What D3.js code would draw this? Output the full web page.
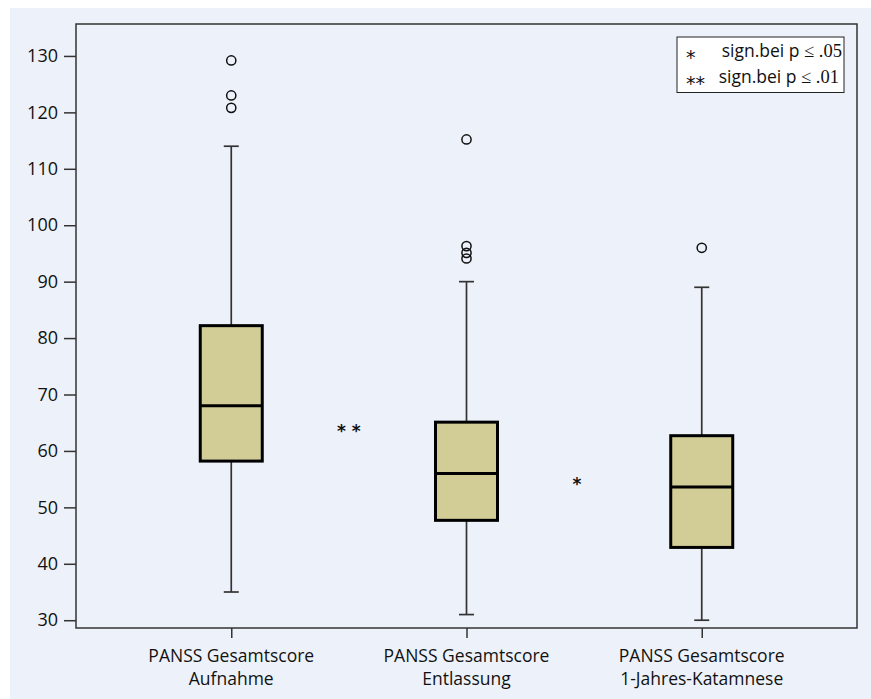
<!DOCTYPE html>
<html>
<head>
<meta charset="utf-8">
<script src="https://cdn.jsdelivr.net/npm/d3@7"></script>
<style>
  body { margin: 0; background: #fff; }
  svg text { font-family: "Open Sans", "Noto Sans", sans-serif; fill: #111; }
</style>
</head>
<body>
<div id="chart"></div>
<script>
// box plot data
let categories = ["Aufnahme", "Entlassung", "1-Jahres-Katamnese"];
let whiskerLow = [35, 31, 30];
let quartile1 = [58.2, 47.7, 42.9];
let medians = [68, 56, 53.6];
let quartile3 = [82.2, 65.1, 62.7];
let whiskerHigh = [114, 90, 89];
let outliers = [[129.2, 123, 120.8], [115.2, 96.3, 95.1, 94.1], [96]];
let yTicks = [30, 40, 50, 60, 70, 80, 90, 100, 110, 120, 130];

// significance marks between the boxes (position in category units)
let sigLabels = ["* *", "*"];
let sigPos = [0.5, 1.47];
let sigValue = [63.8, 54.5];

let legendSymbols = ["*", "**"];
let legendText = ["sign.bei p", "sign.bei p"];
let legendLevel = ["\u2264 .05", "\u2264 .01"];

let svgwidth = 871;
let svgheight = 699;

let margin = { top: 24, right: 14, bottom: 71, left: 76 };
let width = svgwidth - margin.left - margin.right;
let height = svgheight - margin.top - margin.bottom;

let svg = d3.select("#chart")
    .append("svg")
    .attr("width", svgwidth)
    .attr("height", svgheight);

// light blue panel
svg.append("rect")
    .attr("x", 10)
    .attr("y", 8)
    .attr("width", svgwidth - 10)
    .attr("height", svgheight - 8)
    .attr("fill", "#edf1fa");

let chartgroup = svg.append("g")
    .attr("transform", `translate(${margin.left}, ${margin.top})`);

let xScale = d3.scalePoint()
    .domain(d3.range(categories.length))
    .range([0, width])
    .padding(0.66);

let yScale = d3.scaleLinear()
    .domain([28.62, 135.66])
    .range([height, 0]);

// frame
chartgroup.append("rect")
    .attr("x", 0)
    .attr("y", 0)
    .attr("width", width)
    .attr("height", height)
    .attr("fill", "none")
    .attr("stroke", "#333")
    .attr("stroke-width", 1.5);

let leftAxis = d3.axisLeft(yScale)
    .tickValues(yTicks)
    .tickSize(12)
    .tickPadding(6);

let yAxis = chartgroup.append("g").call(leftAxis);
yAxis.select(".domain").remove();
yAxis.selectAll("line").attr("stroke", "#333").attr("stroke-width", 1.5);
yAxis.selectAll("text")
    .style("font-size", "18px")
    .attr("fill", "#111");

let bottomAxis = d3.axisBottom(d3.scaleLinear().domain([0, width]).range([0, width]))
    .tickValues(d3.range(categories.length).map(i => xScale(i)))
    .tickSize(10)
    .tickFormat("");

let xAxis = chartgroup.append("g")
    .attr("transform", `translate(0, ${height})`)
    .call(bottomAxis);
xAxis.select(".domain").remove();
xAxis.selectAll("line").attr("stroke", "#333").attr("stroke-width", 1.5);

let xLabels = chartgroup.append("g")
    .selectAll("text")
    .data(categories)
    .enter()
    .append("text")
    .attr("x", (d, i) => xScale(i))
    .attr("y", height + 34)
    .attr("text-anchor", "middle")
    .style("font-size", "17.5px");

xLabels.append("tspan")
    .attr("x", (d, i) => xScale(i))
    .text("PANSS Gesamtscore");
xLabels.append("tspan")
    .attr("x", (d, i) => xScale(i))
    .attr("dy", 23.3)
    .text(d => d);

let boxWidth = 62;
let capWidth = 15;

let boxes = chartgroup.selectAll(".box")
    .data(categories)
    .enter()
    .append("g")
    .attr("class", "box")
    .attr("transform", (d, i) => `translate(${xScale(i)}, 0)`);

// whiskers
boxes.append("line")
    .attr("x1", 0).attr("x2", 0)
    .attr("y1", (d, i) => yScale(whiskerLow[i]))
    .attr("y2", (d, i) => yScale(quartile1[i]))
    .attr("stroke", "#333").attr("stroke-width", 1.7);
boxes.append("line")
    .attr("x1", 0).attr("x2", 0)
    .attr("y1", (d, i) => yScale(whiskerHigh[i]))
    .attr("y2", (d, i) => yScale(quartile3[i]))
    .attr("stroke", "#333").attr("stroke-width", 1.7);
boxes.append("line")
    .attr("x1", -capWidth / 2).attr("x2", capWidth / 2)
    .attr("y1", (d, i) => yScale(whiskerLow[i]))
    .attr("y2", (d, i) => yScale(whiskerLow[i]))
    .attr("stroke", "#333").attr("stroke-width", 1.7);
boxes.append("line")
    .attr("x1", -capWidth / 2).attr("x2", capWidth / 2)
    .attr("y1", (d, i) => yScale(whiskerHigh[i]))
    .attr("y2", (d, i) => yScale(whiskerHigh[i]))
    .attr("stroke", "#333").attr("stroke-width", 1.7);

boxes.append("rect")
    .attr("x", -boxWidth / 2)
    .attr("width", boxWidth)
    .attr("y", (d, i) => yScale(quartile3[i]))
    .attr("height", (d, i) => yScale(quartile1[i]) - yScale(quartile3[i]))
    .attr("fill", "#d2cd96")
    .attr("stroke", "#000")
    .attr("stroke-width", 3);

boxes.append("line")
    .attr("x1", -boxWidth / 2).attr("x2", boxWidth / 2)
    .attr("y1", (d, i) => yScale(medians[i]))
    .attr("y2", (d, i) => yScale(medians[i]))
    .attr("stroke", "#000").attr("stroke-width", 3);

boxes.each(function(d, i) {
    d3.select(this).selectAll("circle")
        .data(outliers[i])
        .enter()
        .append("circle")
        .attr("cx", 0)
        .attr("cy", v => yScale(v))
        .attr("r", 4.6)
        .attr("fill", "none")
        .attr("stroke", "#111")
        .attr("stroke-width", 1.5);
});

// significance asterisks
let sigX = d3.scaleLinear().domain([0, 1]).range([xScale(0), xScale(1)]);
chartgroup.selectAll(".sig")
    .data(sigLabels)
    .enter()
    .append("text")
    .attr("class", "sig")
    .attr("x", (d, i) => sigX(sigPos[i]))
    .attr("y", (d, i) => yScale(sigValue[i]) + 8)
    .attr("text-anchor", "middle")
    .style("font-family", "DejaVu Sans, sans-serif")
    .style("font-weight", "bold")
    .style("font-size", "17px")
    .text(d => d);

// legend
let legend = svg.append("g")
    .attr("transform", "translate(677, 37)");

legend.append("rect")
    .attr("width", 167)
    .attr("height", 55.5)
    .attr("fill", "#fff")
    .attr("stroke", "#222")
    .attr("stroke-width", 1);

legend.selectAll(".sym")
    .data(legendSymbols)
    .enter()
    .append("text")
    .attr("x", 9)
    .attr("y", (d, i) => 27 + i * 26)
    .style("font-family", "DejaVu Sans, sans-serif")
    .style("font-size", "19px")
    .text(d => d);

let legendLines = legend.selectAll(".lab")
    .data(legendText)
    .enter()
    .append("text")
    .attr("x", (d, i) => i === 0 ? 165 : 162)
    .attr("y", (d, i) => 20 + i * 26)
    .attr("text-anchor", "end")
    .style("font-size", "17.5px");

legendLines.append("tspan").text(d => d + " ");
legendLines.append("tspan")
    .style("font-family", "Liberation Serif, serif")
    .style("font-size", "18.5px")
    .text((d, i) => legendLevel[i]);
</script>
</body>
</html>
